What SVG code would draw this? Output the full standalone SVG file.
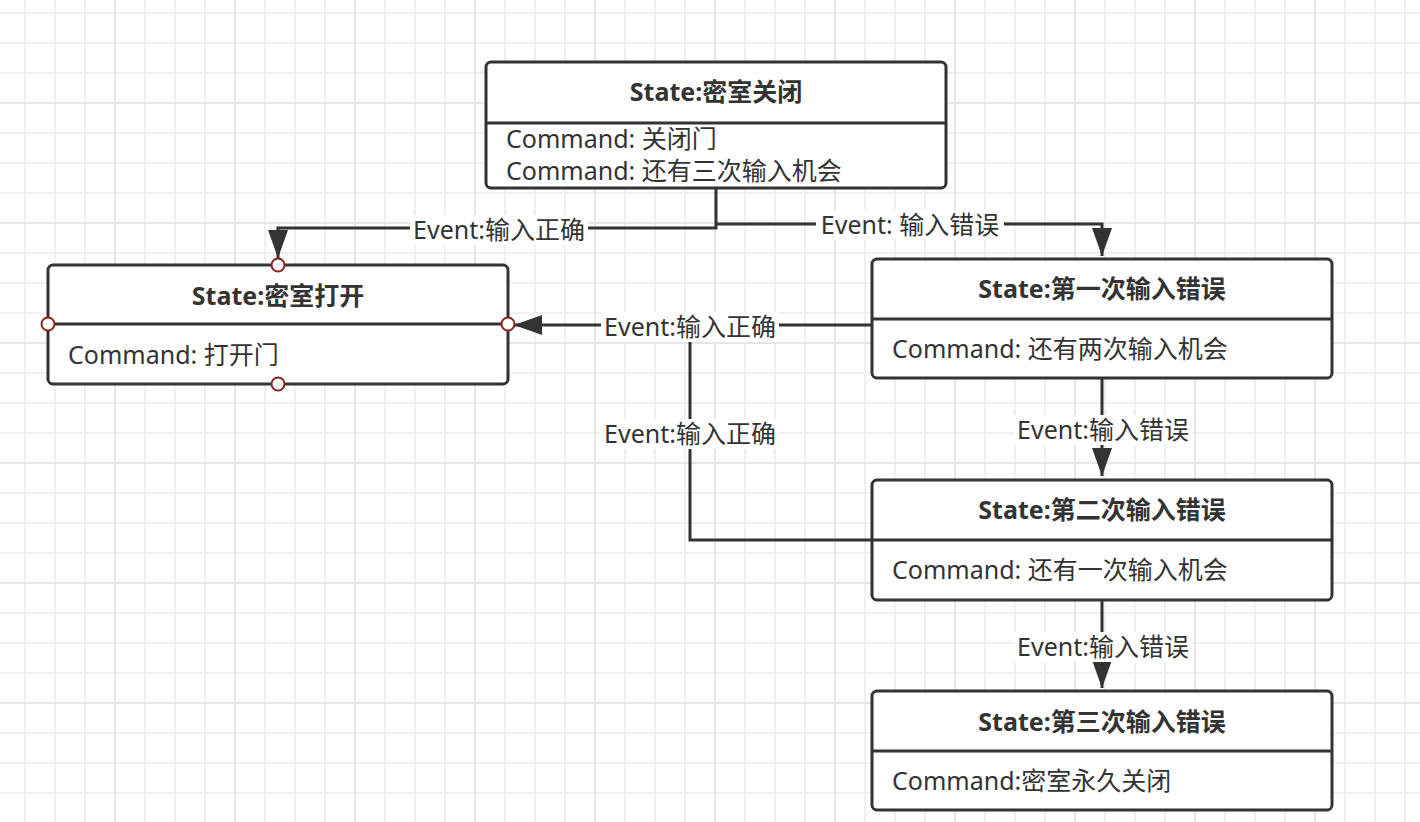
<svg xmlns="http://www.w3.org/2000/svg" width="1420" height="822" viewBox="0 0 1420 822">
<defs>
<pattern id="gMinor" x="24" y="12" width="30" height="30" patternUnits="userSpaceOnUse">
<rect x="0" y="0" width="2" height="30" fill="#f0f0f0"/>
<rect x="0" y="0" width="30" height="2" fill="#f0f0f0"/>
</pattern>
<pattern id="gMajor" x="114" y="102" width="120" height="120" patternUnits="userSpaceOnUse">
<rect x="0" y="0" width="2" height="120" fill="#e6e6e6"/>
<rect x="0" y="0" width="120" height="2" fill="#e6e6e6"/>
</pattern>
<marker id="arr" viewBox="0 0 28 20" refX="28" refY="10" markerWidth="28" markerHeight="20" markerUnits="userSpaceOnUse" orient="auto">
<path d="M0,0 L28,10 L0,20 Z" fill="#333"/>
</marker>
<style>
.box{fill:#fff;stroke:#333;stroke-width:3}
.div{stroke:#333;stroke-width:3}
.title{font-family:"Noto Sans","Noto Sans CJK SC",sans-serif;font-size:25px;font-weight:bold;fill:#333;text-anchor:middle}
.body{font-family:"Noto Sans","Noto Sans CJK SC",sans-serif;font-size:25px;fill:#333}
.lbl{font-family:"Noto Sans","Noto Sans CJK SC",sans-serif;font-size:25px;fill:#333;text-anchor:middle}
.conn{fill:none;stroke:#333;stroke-width:3}
.pt{fill:#fff;stroke:#8b2323;stroke-width:2}
.lbg{fill:#fff}
</style>
</defs>
<rect width="1420" height="822" fill="#fff"/>
<rect width="1420" height="822" fill="url(#gMinor)"/>
<rect width="1420" height="822" fill="url(#gMajor)"/>

<g id="connectors">
<path class="conn" d="M716,188 V228 H278 V258" marker-end="url(#arr)"/>
<path class="conn" d="M716,224 H1102 V256" marker-end="url(#arr)"/>
<path class="conn" d="M872,325 H514" marker-end="url(#arr)" stroke="#444"/>
<path class="conn" d="M872,540 H690 V325"/>
<path class="conn" d="M1102,378 V476" marker-end="url(#arr)"/>
<path class="conn" d="M1102,600 V688" marker-end="url(#arr)"/>
<rect class="lbg" x="410" y="215" width="178" height="30"/>
<text class="lbl" x="499" y="239">Event:输入正确</text>
<rect class="lbg" x="816" y="210" width="188" height="30"/>
<text class="lbl" x="910" y="234">Event: 输入错误</text>
<rect class="lbg" x="601" y="312" width="178" height="30"/>
<text class="lbl" x="690" y="336">Event:输入正确</text>
<rect class="lbg" x="601" y="419" width="178" height="30"/>
<text class="lbl" x="690" y="443">Event:输入正确</text>
<rect class="lbg" x="1014" y="415" width="178" height="30"/>
<text class="lbl" x="1103" y="439">Event:输入错误</text>
<rect class="lbg" x="1014" y="632" width="178" height="30"/>
<text class="lbl" x="1103" y="656">Event:输入错误</text>
</g>

<g id="state-closed">
<rect class="box" x="486" y="62" width="460" height="126" rx="5"/>
<line class="div" x1="486" y1="123" x2="946" y2="123"/>
<text class="title" x="716" y="101">State:密室关闭</text>
<text class="body" x="506" y="148">Command: 关闭门</text>
<text class="body" x="506" y="180">Command: 还有三次输入机会</text>
</g>

<g id="state-open">
<rect class="box" x="48" y="265" width="460" height="119" rx="5"/>
<line class="div" x1="48" y1="324" x2="508" y2="324"/>
<text class="title" x="278" y="305">State:密室打开</text>
<text class="body" x="68" y="364">Command: 打开门</text>
<circle class="pt" cx="278" cy="265" r="6.5"/>
<circle class="pt" cx="48" cy="324" r="6.5"/>
<circle class="pt" cx="508" cy="324" r="6.5"/>
<circle class="pt" cx="278" cy="384" r="6.5"/>
</g>

<g id="state-error1">
<rect class="box" x="872" y="259" width="460" height="119" rx="5"/>
<line class="div" x1="872" y1="319" x2="1332" y2="319"/>
<text class="title" x="1102" y="298">State:第一次输入错误</text>
<text class="body" x="892" y="358">Command: 还有两次输入机会</text>
</g>

<g id="state-error2">
<rect class="box" x="872" y="480" width="460" height="120" rx="5"/>
<line class="div" x1="872" y1="540" x2="1332" y2="540"/>
<text class="title" x="1102" y="519">State:第二次输入错误</text>
<text class="body" x="892" y="579">Command: 还有一次输入机会</text>
</g>

<g id="state-error3">
<rect class="box" x="872" y="691" width="460" height="119" rx="5"/>
<line class="div" x1="872" y1="751" x2="1332" y2="751"/>
<text class="title" x="1102" y="731">State:第三次输入错误</text>
<text class="body" x="892" y="790">Command:密室永久关闭</text>
</g>
</svg>
